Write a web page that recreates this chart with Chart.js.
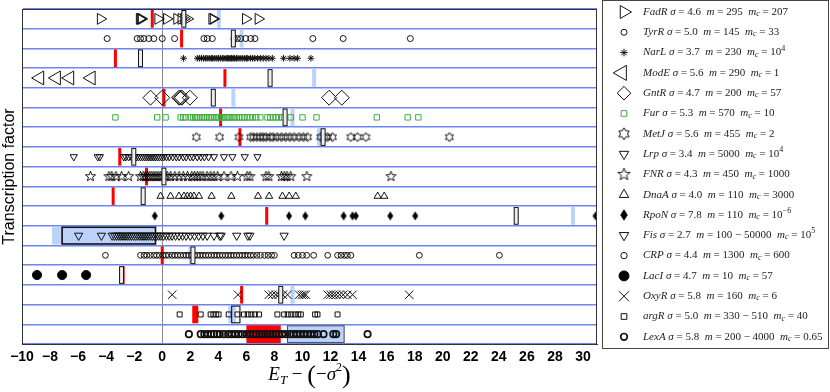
<!DOCTYPE html>
<html>
<head>
<meta charset="utf-8">
<script src="https://cdn.jsdelivr.net/npm/chart.js@4.4.1/dist/chart.umd.min.js"></script>
<style>
  html, body { margin: 0; padding: 0; background: #fff; }
  #wrap { width: 830px; height: 392px; }
</style>
</head>
<body>
<div id="wrap"><canvas id="chart" width="830" height="392"></canvas></div>
<script>
/* Datos: una fila por factor de transcripcion (de arriba hacia abajo) */
const rowNames = ["FadR", "TyrR", "NarL", "ModE", "GntR", "Fur", "MetJ", "Lrp", "FNR",
  "DnaA", "RpoN", "Fis", "CRP", "LacI", "OxyR", "argR", "LexA"];

const fadR = [-4.4, -1.62, -1.55, -1.48, -0.3, 0.32, 1.05, 1.35, 1.55, 1.8, 3.55, 3.65, 5.95, 6.85];
const tyrR = [-3.93, -1.79, -1.55, -1.31, -0.96, -0.6, 0, 0.88, 2.97, 3.21, 3.57, 5.12, 5.35, 5.59,
  5.95, 6.31, 6.61, 10.74, 12.9, 17.69];
const narL = [1.52, 2.5, 2.65, 2.8, 2.95, 3.1, 3.2, 3.35, 3.5, 3.6, 3.75, 3.9, 4.0, 4.15, 4.3, 4.4,
  4.55, 4.65, 4.75, 4.85, 4.95, 5.05, 5.15, 5.3, 5.4, 5.55, 5.7, 5.85, 6.0, 6.1, 6.3, 6.45, 6.6,
  6.8, 7.0, 7.2, 7.4, 7.6, 7.85, 8.65, 9.1, 9.4, 9.65, 10.6];
const modE = [-8.74, -7.55, -6.6, -5.07];
const gntR = [-0.84, 0, 1.2, 1.3, 1.4, 1.97, 11.9, 12.8];
const fur = [-3.34, -0.36, 0.24, 1.31, 1.5, 1.66, 2.02, 2.2, 2.35, 2.5, 2.7, 2.85, 3.0, 3.2, 3.35,
  3.5, 3.7, 3.85, 4.0, 4.2, 4.35, 4.5, 4.65, 4.8, 5.0, 5.15, 5.3, 5.5, 5.7, 5.85, 6.05, 6.25, 6.45,
  6.7, 7.0, 7.5, 7.7, 7.9, 8.1, 8.3, 8.55, 9.16, 10.0, 11.0, 15.3, 17.5, 18.26];
const metJ = [2.43, 4.09, 5.47, 6.3, 6.5, 6.75, 7.0, 7.2, 7.4, 7.7, 7.9, 8.2, 8.5, 8.8, 9.1, 9.4,
  9.75, 10.05, 10.36, 11.3, 11.55, 11.79, 12.14, 13.45, 13.93, 14.52, 20.47];
const lrp = [-6.31, -4.6, -4.45, -2.74, -2.6, -2.4, -2.2, -2.0, -1.85, -1.7, -1.55, -1.4, -1.25,
  -1.1, -0.95, -0.8, -0.65, -0.5, -0.35, -0.2, -0.05, 0.1, 0.3, 0.5, 0.75, 1.0, 1.2, 1.5, 1.7, 2.0,
  2.2, 2.5, 2.75, 3.0, 3.3, 3.69, 4.4, 5.0, 5.88, 6.79];
const fnr = [-5.12, -3.8, -3.6, -3.3, -2.9, -2.4, -1.55, -1.35, -1.2, -1.05, -0.9, -0.75, -0.6,
  -0.45, -0.3, -0.15, 0.0, 0.2, 0.36, 0.6, 0.9, 1.2, 1.5, 1.8, 2.1, 2.3, 2.5, 2.7, 2.9, 3.2, 3.45,
  3.69, 3.95, 4.4, 4.9, 5.36, 6.05, 6.25, 7.4, 7.6, 8.5, 8.7, 8.9, 9.16, 10.31, 16.31];
const dnaA = [-0.12, 0.59, 1.19, 1.55, 1.79, 2.02, 2.26, 2.62, 3.52, 4.93, 6.83, 7.62, 8.57, 9.05,
  9.52, 15.36, 15.83];
const rpoN = [-0.53, 4.21, 9.04, 10.2, 12.93, 13.57, 13.8, 16.26, 18.04, 30.9];
const fis = [-5.96, -4.34, -3.57, -3.4, -3.25, -3.1, -2.95, -2.8, -2.65, -2.5, -2.35, -2.2, -2.05,
  -1.9, -1.75, -1.6, -1.45, -1.3, -1.15, -1.0, -0.85, -0.7, -0.55, -0.4, -0.25, -0.1, 0.1, 0.3, 0.5,
  0.7, 0.95, 1.2, 1.45, 1.7, 2.0, 2.3, 2.6, 2.9, 3.2, 3.69, 4.1, 4.2, 5.31, 6.1, 6.25, 8.69];
const crp = [-4.05, -1.55, -1.3, -1.1, -0.85, -0.6, -0.4, -0.2, 0.05, 0.25, 0.45, 0.7, 0.9, 1.1,
  1.3, 1.5, 1.7, 1.9, 2.1, 2.3, 2.5, 2.7, 2.9, 3.1, 3.3, 3.5, 3.7, 3.9, 4.1, 4.3, 4.5, 4.7, 4.9,
  5.1, 5.3, 5.5, 5.7, 5.9, 6.1, 6.3, 6.5, 6.75, 7.0, 7.3, 7.55, 7.8, 8.0, 9.4, 9.7, 10.0, 10.3,
  10.8, 11.8, 12.5, 12.75, 13.0, 13.2, 13.45, 18.33, 24.04];
const lacI = [-8.93, -7.14, -5.43];
const oxyR = [0.71, 5.4, 7.6, 7.85, 8.1, 8.3, 8.6, 8.93, 9.76, 9.95, 10.1, 10.24, 11.8, 12.0, 12.2,
  12.4, 12.65, 12.9, 13.2, 13.57, 17.61];
const argR = [1.24, 2.74, 3.45, 3.65, 3.85, 4.02, 4.74, 5.36, 5.83, 6.1, 6.35, 6.6, 6.9, 8.21, 8.69,
  8.95, 9.2, 9.45, 9.7, 9.88, 10.9, 11.07, 12.5];
const lexA = [1.9, 2.74, 3.0, 3.25, 3.5, 3.7, 3.9, 4.1, 4.4, 4.7, 4.95, 5.2, 5.45, 5.7, 6.0, 6.25,
  6.5, 6.7, 6.9, 7.1, 7.3, 7.5, 7.7, 7.9, 8.1, 8.3, 8.55, 8.8, 9.1, 9.35, 9.6, 9.85, 10.1, 10.35,
  10.6, 10.85, 11.1, 11.5, 12.2, 12.4, 14.64];

const rowValues = [fadR, tyrR, narL, modE, gntR, fur, metJ, lrp, fnr, dnaA, rpoN, fis, crp, lacI,
  oxyR, argR, lexA];

// barra roja, caja doble negra y franja celeste (limite inferior / superior por fila)
const redLo = [-0.71, 1.38, -3.34, 4.47, 0.12, 4.16, 5.54, -3.03, -1.12, -3.5, 7.45, null, 0, -2.79, 5.66, 2.14, 6.0];
const redHi = [-0.71, 1.38, -3.34, 4.47, 0.12, 4.16, 5.54, -3.03, -1.12, -3.5, 7.45, null, 0, -2.79, 5.66, 2.57, 8.45];
const boxLo = [1.54, 5.07, -1.55, 7.69, 3.64, 8.76, 11.47, -2.03, 0.12, -1.36, 25.24, -7.14, 2.19, -2.9, 8.45, 4.95, 8.93];
const boxHi = [1.54, 5.07, -1.55, 7.69, 3.64, 8.76, 11.47, -2.03, 0.12, -1.36, 25.24, -0.48, 2.19, -2.9, 8.45, 5.54, 12.97];
const blueLo = [4.04, 5.66, null, 10.83, 5.07, 9.29, 11.19, null, null, null, 29.29, -7.86, 2.02, null, 9.29, 4.71, 8.93];
const blueHi = [4.04, 5.66, null, 10.83, 5.07, 9.29, 11.19, null, null, null, 29.29, -0.48, 2.02, null, 9.29, 5.24, 12.97];

// textos de la leyenda
const sigmaVals = ["4.6", "5.0", "3.7", "5.6", "4.7", "5.3", "5.6", "3.4", "4.3", "4.0", "7.8", "2.7", "4.4", "4.7", "5.8", "5.0", "5.8"];
const mVals = ["295", "145", "230", "290", "200", "570", "455", "5000", "450", "110", "110", "100 \u2212 50000", "1300", "10", "160", "330 \u2212 510", "200 \u2212 4000"];
const mcBase = ["207", "33", "10", "1", "57", "10", "2", "10", "1000", "3000", "10", "10", "600", "57", "6", "40", "0.65"];
const mcExp = ["", "", "4", "", "", "", "", "4", "", "", "\u22126", "5", "", "", "", "", ""];

const xTicksMin = -10, xTicksMax = 31, xStep = 2;

/* Marcadores */
function makeStar(n, R, ratio, lw) {
  const s = Math.ceil(2 * R + 2 * lw + 2);
  const c = document.createElement("canvas");
  c.width = c.height = s;
  const g = c.getContext("2d");
  g.translate(s / 2, s / 2);
  g.beginPath();
  for (let k = 0; k < 2 * n; k++) {
    const r = k % 2 ? R * ratio : R;
    const a = -Math.PI / 2 + (k * Math.PI) / n;
    g.lineTo(r * Math.cos(a), r * Math.sin(a));
  }
  g.closePath();
  g.lineWidth = lw;
  g.strokeStyle = "#000";
  g.stroke();
  return c;
}
function makeDiamond(w, h) {
  const c = document.createElement("canvas");
  c.width = Math.ceil(w) + 2;
  c.height = Math.ceil(h) + 2;
  const g = c.getContext("2d");
  const cx = c.width / 2, cy = c.height / 2;
  g.beginPath();
  g.moveTo(cx, cy - h / 2);
  g.lineTo(cx + w / 2, cy);
  g.lineTo(cx, cy + h / 2);
  g.lineTo(cx - w / 2, cy);
  g.closePath();
  g.fillStyle = "#000";
  g.fill();
  return c;
}

const hexStar = makeStar(6, 4.6, 0.577, 0.9);
const fiveStar = makeStar(5, 5.3, 0.42, 0.9);
const tallDiamond = makeDiamond(6, 9);
const hexStarBig = makeStar(6, 6, 0.577, 0.9);
const fiveStarBig = makeStar(5, 6.5, 0.42, 0.9);
const tallDiamondBig = makeDiamond(7.5, 11.5);

const markerStyle = ["triangle", "circle", "star", "triangle", "rectRot", "rect", hexStar, "triangle",
  fiveStar, "triangle", tallDiamond, "triangle", "circle", "circle", "crossRot", "rect", "circle"];
const legendStyle = ["triangle", "circle", "star", "triangle", "rectRot", "rect", hexStarBig, "triangle",
  fiveStarBig, "triangle", tallDiamondBig, "triangle", "circle", "circle", "crossRot", "rect", "circle"];
const markerRot = [90, 0, 0, -90, 0, 0, 0, 180, 0, 0, 0, 180, 0, 0, 0, 0, 0];
const markerRadius = [6.3, 3, 3.3, 8, 7.5, 3.8, 5, 4.2, 5.5, 4.2, 5, 4.8, 2.9, 4.6, 5.9, 3.5, 3.2];
const legendRadius = [7.5, 3, 3.8, 8.7, 6.8, 4, 6, 5.5, 6.5, 5.5, 6, 5.5, 3.2, 5, 7, 4, 3.3];
const markerWidth = [1, 1, 1, 1, 1, 1, 1, 1, 1, 1, 1, 1, 1, 1, 1, 1, 1.7];
const markerColor = rowNames.map((n, i) => (i === 5 ? "#3fae3f" : "#111"));
const markerFill = rowNames.map((n, i) => (i === 13 ? "#000" : "rgba(0,0,0,0)"));
const legendX = [624, 624, 624, 622, 624, 624, 624, 624, 624, 624, 624, 624, 624, 624, 624, 624, 624];

const rowEdges = rowNames.map((n, i) => i + 0.5).concat([rowNames.length + 0.5]);

const datasets = rowValues.map((vals, i) => ({
  label: rowNames[i],
  data: vals.map((v) => ({ x: v, y: i + 1 })),
  pointStyle: markerStyle[i],
  rotation: markerRot[i],
  pointRadius: markerRadius[i],
  borderWidth: markerWidth[i],
  borderColor: markerColor[i],
  backgroundColor: markerFill[i],
  showLine: false
}));

/* Plugin: franjas, barras y cajas */
function spanPx(scale, lo, hi, minW) {
  let x0 = scale.getPixelForValue(lo), x1 = scale.getPixelForValue(hi);
  if (x1 - x0 < minW) {
    const c = (x0 + x1) / 2;
    x0 = c - minW / 2;
    x1 = c + minW / 2;
  }
  return [x0, x1];
}

const bandsPlugin = {
  id: "bands",
  beforeDatasetsDraw(chart) {
    const { ctx, chartArea: a, scales: { x, y } } = chart;
    ctx.save();
    ctx.beginPath();
    ctx.rect(a.left, a.top, a.right - a.left, a.bottom - a.top);
    ctx.clip();
    rowNames.forEach((n, i) => {
      const top = y.getPixelForValue(i + 0.5) + 1, bot = y.getPixelForValue(i + 1.5) - 1;
      if (blueLo[i] !== null) {
        const [x0, x1] = spanPx(x, blueLo[i], blueHi[i], 4);
        ctx.fillStyle = "rgb(188,210,250)";
        ctx.fillRect(x0, top, x1 - x0, bot - top);
      }
      if (redLo[i] !== null) {
        const [x0, x1] = spanPx(x, redLo[i], redHi[i], 3);
        ctx.fillStyle = "#ff0000";
        ctx.fillRect(x0, top, x1 - x0, bot - top);
      }
      if (boxHi[i] !== boxLo[i]) {
        const [x0, x1] = spanPx(x, boxLo[i], boxHi[i], 4);
        ctx.strokeStyle = i === 16 ? "#555" : "#111";
        ctx.lineWidth = i === 11 ? 1.6 : 1.1;
        ctx.strokeRect(x0, top + 0.5, x1 - x0, bot - top - 1);
      }
    });
    ctx.restore();
  },
  afterDatasetsDraw(chart) {
    const { ctx, chartArea: a, scales: { x, y } } = chart;
    ctx.save();
    rowNames.forEach((n, i) => {
      if (boxHi[i] === boxLo[i]) {
        const top = y.getPixelForValue(i + 0.5) + 1.5, bot = y.getPixelForValue(i + 1.5) - 1.5;
        const [x0, x1] = spanPx(x, boxLo[i], boxHi[i], 4);
        ctx.fillStyle = "#eee";
        ctx.fillRect(x0, top, x1 - x0, bot - top);
        ctx.strokeStyle = "#111";
        ctx.lineWidth = 1;
        ctx.strokeRect(x0, top, x1 - x0, bot - top);
      }
    });
    // marco
    ctx.strokeStyle = "#333";
    ctx.lineWidth = 1;
    ctx.strokeRect(a.left + 0.5, a.top + 0.5, a.right - a.left - 1, a.bottom - a.top);
    ctx.restore();
  }
};

/* Plugin: leyenda y titulo del eje x (con subindices) */
function drawRich(ctx, parts, x, y) {
  parts.forEach(([t, font, dy]) => {
    ctx.font = font;
    ctx.fillText(t, x, y + (dy || 0));
    x += ctx.measureText(t).width;
  });
  return x;
}
function richWidth(ctx, parts) {
  let w = 0;
  parts.forEach(([t, font]) => {
    ctx.font = font;
    w += ctx.measureText(t).width;
  });
  return w;
}

const textPlugin = {
  id: "texts",
  afterDraw(chart) {
    const ctx = chart.ctx;
    ctx.save();
    // caja de leyenda
    ctx.strokeStyle = "#444";
    ctx.lineWidth = 1;
    ctx.strokeRect(602.5, 0.5, 226, 348);
    const it = 'italic 11px "Liberation Serif"', rm = '11px "Liberation Serif"';
    const sub = 'italic 8px "Liberation Serif"', sup = '8px "Liberation Serif"';
    ctx.textBaseline = "middle";
    ctx.textAlign = "left";
    rowNames.forEach((name, i) => {
      const yy = 12 + i * 20.3;
      ctx.fillStyle = markerColor[i];
      ctx.strokeStyle = markerColor[i];
      ctx.lineWidth = markerWidth[i];
      if (Chart.helpers && Chart.helpers.drawPoint) {
        ctx.fillStyle = markerFill[i];
        Chart.helpers.drawPoint(ctx, {
          pointStyle: legendStyle[i],
          rotation: markerRot[i],
          radius: legendRadius[i],
          borderWidth: markerWidth[i]
        }, legendX[i], yy);
      }
      ctx.fillStyle = "#222";
      const parts = [
        [name, it], [" \u03C3", it], [" = " + sigmaVals[i] + "  ", rm],
        ["m", it], [" = " + mVals[i] + "  ", rm],
        ["m", it], ["c", sub, 2], [" = " + mcBase[i], rm]
      ];
      if (mcExp[i]) parts.push([mcExp[i], sup, -4]);
      drawRich(ctx, parts, 643, yy);
    });
    // titulo eje x: E_T - (-sigma^2)
    ctx.fillStyle = "#000";
    ctx.textBaseline = "alphabetic";
    const big = 'italic 19px "Liberation Serif"', bigr = '19px "Liberation Serif"';
    const xt = [
      ["E", big], ["T", 'italic 13px "Liberation Serif"', 4], [" \u2212 ", bigr],
      ["(", '26px "Liberation Serif"', 3], ["\u2212", bigr], ["\u03C3", big],
      ["2", '12px "Liberation Serif"', -9], [")", '26px "Liberation Serif"', 3]
    ];
    const a = chart.chartArea;
    const w = richWidth(ctx, xt);
    drawRich(ctx, xt, (a.left + a.right) / 2 - w / 2, 380);
    ctx.restore();
  }
};

new Chart(document.getElementById("chart"), {
  type: "scatter",
  data: { datasets: datasets },
  plugins: [bandsPlugin, textPlugin],
  options: {
    responsive: false,
    animation: false,
    events: [],
    layout: { padding: { left: 0, right: 233, top: 7, bottom: 0 } },
    plugins: { legend: { display: false }, tooltip: { enabled: false } },
    scales: {
      x: {
        type: "linear",
        min: xTicksMin,
        max: xTicksMax,
        afterFit: (s) => { s.height = 48; },
        border: { display: true, color: "#333" },
        grid: {
          drawTicks: false,
          lineWidth: 1,
          color: (c) => (c.tick && c.tick.value === 0 ? "#8a8a8a" : "rgba(0,0,0,0)")
        },
        ticks: {
          stepSize: xStep,
          includeBounds: false,
          autoSkip: false,
          maxRotation: 0,
          padding: 5,
          color: "#000",
          font: { family: "Liberation Sans", size: 14, weight: "bold" },
          callback: (v) => (v < 0 ? "\u2212" + Math.abs(v) : String(v))
        }
      },
      y: {
        type: "linear",
        min: 0.5,
        max: rowNames.length + 0.5,
        reverse: true,
        afterFit: (s) => { s.width = 22; },
        afterBuildTicks: (s) => { s.ticks = rowEdges.map((v) => ({ value: v })); },
        border: { display: true, color: "#333" },
        grid: { drawTicks: false, color: "rgb(108,132,240)", lineWidth: 1.5 },
        ticks: { display: false },
        title: {
          display: true,
          text: "Transcription factor",
          color: "#000",
          padding: 0,
          font: { family: "Liberation Sans", size: 16 }
        }
      }
    }
  }
});
</script>
</body>
</html>
